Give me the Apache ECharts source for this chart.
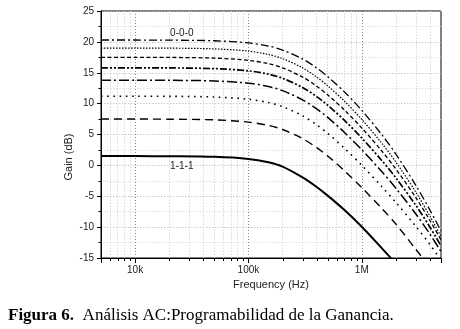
<!DOCTYPE html>
<html>
<head>
<meta charset="utf-8">
<script src="https://cdn.jsdelivr.net/npm/echarts@6/dist/echarts.min.js"></script>
<style>
  html, body { margin: 0; padding: 0; background: #fff; }
  #gainChart { width: 460px; height: 329px; }
</style>
</head>
<body>
<div id="gainChart"></div>
<script>
// frecuencias de muestreo (Hz)
const freqs = [5e3, 1e4, 2e4, 5e4, 1e5, 1.5e5, 2e5, 3e5, 4e5, 5e5, 7e5, 1e6, 1.5e6, 2e6, 3e6, 4e6, 5e6];

// ganancias (dB), de la curva 0-0-0 a la 1-1-1
const gain000 = [20.3, 20.3, 20.28, 20.18, 19.84, 19.33, 18.68, 17.24, 15.77, 14.38, 11.93, 8.91, 4.98, 1.82, -3.24, -7.27, -10.62];
const gainB = [19.0, 18.99, 18.98, 18.87, 18.51, 17.96, 17.29, 15.8, 14.3, 12.89, 10.43, 7.44, 3.6, 0.54, -4.34, -8.25, -11.52];
const gainC = [17.5, 17.49, 17.48, 17.37, 17.01, 16.46, 15.8, 14.31, 12.82, 11.42, 8.99, 6.06, 2.33, -0.59, -5.23, -8.94, -12.08];
const gainD = [15.8, 15.79, 15.78, 15.67, 15.31, 14.77, 14.1, 12.62, 11.13, 9.74, 7.33, 4.43, 0.8, -2.03, -6.47, -10.03, -13.03];
const gainE = [13.8, 13.79, 13.78, 13.67, 13.31, 12.77, 12.1, 10.62, 9.15, 7.77, 5.37, 2.53, -1.01, -3.71, -7.87, -11.16, -13.96];
const gainF = [11.2, 11.19, 11.18, 11.07, 10.71, 10.17, 9.51, 8.03, 6.56, 5.19, 2.81, 0.01, -3.43, -6.0, -9.87, -12.84, -15.34];
const gainG = [7.5, 7.5, 7.48, 7.37, 7.01, 6.47, 5.81, 4.34, 2.87, 1.51, -0.84, -3.6, -6.95, -9.5, -13.6, -16.5, -18.8];
const gain111 = [1.5, 1.5, 1.48, 1.38, 1.05, 0.5, -0.2, -1.95, -3.5, -4.9, -7.2, -9.95, -13.4, -15.9, -19.5, -22, -24];

// marcas del eje x
const majorFreqs = [1e4, 1e5, 1e6];
const majorLabels = ['10k', '100k', '1M'];
const minorFreqs = [6e3, 7e3, 8e3, 9e3, 2e4, 3e4, 4e4, 5e4, 6e4, 7e4, 8e4, 9e4,
  2e5, 3e5, 4e5, 5e5, 6e5, 7e5, 8e5, 9e5, 2e6, 3e6, 4e6];

const yTicks = [-15, -10, -5, 0, 5, 10, 15, 20, 25];

const curves = [
  { data: gain000, dash: [8, 3, 2, 3], width: 1.3 },
  { data: gainB, dash: [1.5, 1.5], width: 1.2 },
  { data: gainC, dash: [4, 2.5], width: 1.3 },
  { data: gainD, dash: [7, 2, 2, 2, 2, 2], width: 1.7 },
  { data: gainE, dash: [10, 3, 2, 3], width: 1.5 },
  { data: gainF, dash: [1.6, 4.6], width: 1.6 },
  { data: gainG, dash: [8, 5], width: 1.4 },
  { data: gain111, dash: 'solid', width: 2 }
];

const sans = 'Liberation Sans, Arial, sans-serif';
const serif = 'Liberation Serif, Times New Roman, serif';

let series = curves.map((c) => ({
  type: 'line',
  data: freqs.map((f, i) => [f, c.data[i]]),
  smooth: 0.3,
  showSymbol: false,
  lineStyle: { color: '#000', width: c.width, type: c.dash },
  z: 5
}));

// rejilla menor vertical
series[7].markLine = {
  silent: true,
  symbol: ['none', 'none'],
  label: { show: false },
  lineStyle: { color: '#cfcfcf', width: 0.8, type: [1.5, 1.5] },
  data: minorFreqs.map((f) => ({ xAxis: f }))
};
series[7].markPoint = {
  symbol: 'circle', symbolSize: 1,
  itemStyle: { color: 'rgba(0,0,0,0)' },
  label: { show: true, position: 'inside', color: '#222', fontSize: 10, fontFamily: sans, formatter: '1-1-1' },
  data: [{ coord: [25800, -0.1] }]
};
series[0].markPoint = {
  symbol: 'circle', symbolSize: 1,
  itemStyle: { color: 'rgba(0,0,0,0)' },
  label: { show: true, position: 'inside', color: '#222', fontSize: 10, fontFamily: sans, formatter: '0-0-0' },
  data: [{ coord: [25800, 21.4] }]
};

let option = {
  animation: false,
  backgroundColor: '#fff',
  title: {
    left: 8,
    top: 307,
    padding: 0,
    text: '{b|Figura 6.}  Análisis AC:Programabilidad de la Ganancia.',
    textStyle: {
      fontFamily: serif,
      fontSize: 17,
      fontWeight: 'normal',
      color: '#000',
      rich: {
        b: { fontFamily: serif, fontSize: 17, fontWeight: 'bold', color: '#000' }
      }
    }
  },
  grid: {
    left: 101, top: 11, right: 19, bottom: 71,
    show: true, borderColor: '#000', borderWidth: 1
  },
  xAxis: {
    type: 'log',
    logBase: 10,
    min: 5000,
    max: 5000000,
    name: 'Frequency (Hz)',
    nameLocation: 'middle',
    nameGap: 21,
    nameTextStyle: { fontFamily: sans, fontSize: 11, color: '#222' },
    axisLine: { onZero: false, lineStyle: { color: '#000', width: 1 } },
    axisTick: { inside: false, length: 5, lineStyle: { color: '#000' } },
    axisLabel: {
      fontFamily: sans, fontSize: 10, color: '#222', margin: 7,
      formatter: (v) => {
        let k = majorFreqs.findIndex((f) => Math.abs(f - v) / f < 1e-6);
        return k >= 0 ? majorLabels[k] : '';
      }
    },
    splitLine: { show: true, lineStyle: { color: '#8a8a8a', width: 1, type: [1, 2] } }
  },
  yAxis: {
    type: 'value',
    min: yTicks[0],
    max: yTicks[yTicks.length - 1],
    interval: 5,
    axisLine: { show: true, onZero: false, lineStyle: { color: '#000', width: 1 } },
    axisTick: { show: true, inside: false, length: 4, lineStyle: { color: '#000' } },
    minorTick: { show: true, splitNumber: 2, length: 2.5, lineStyle: { color: '#000' } },
    axisLabel: { fontFamily: sans, fontSize: 10, color: '#222', margin: 7 },
    splitLine: { show: true, lineStyle: { color: '#bdbdbd', width: 0.8, type: [1.5, 1.5] } },
    minorSplitLine: { show: true, lineStyle: { color: '#dadada', width: 0.8, type: [1.5, 1.5] } }
  },
  series: series
};

let chart = echarts.init(document.getElementById('gainChart'), null, { renderer: 'canvas' });
chart.setOption(option);

// marcas menores del eje logarítmico (2..9 por década) y título del eje y
let yBase = chart.convertToPixel({ yAxisIndex: 0 }, yTicks[0]);
let tickEls = minorFreqs.map((f) => {
  let px = Math.round(chart.convertToPixel({ xAxisIndex: 0 }, f)) + 0.5;
  return {
    type: 'line',
    silent: true,
    shape: { x1: px, y1: yBase, x2: px, y2: yBase + 3 },
    style: { stroke: '#000', lineWidth: 1 }
  };
});
tickEls.push({
  type: 'text',
  silent: true,
  x: 69,
  y: 157,
  rotation: Math.PI / 2,
  style: { text: 'Gain (dB)', fontFamily: sans, fontSize: 11, fill: '#222', align: 'center', verticalAlign: 'middle' }
});
chart.setOption({ graphic: tickEls });
</script>
</body>
</html>
